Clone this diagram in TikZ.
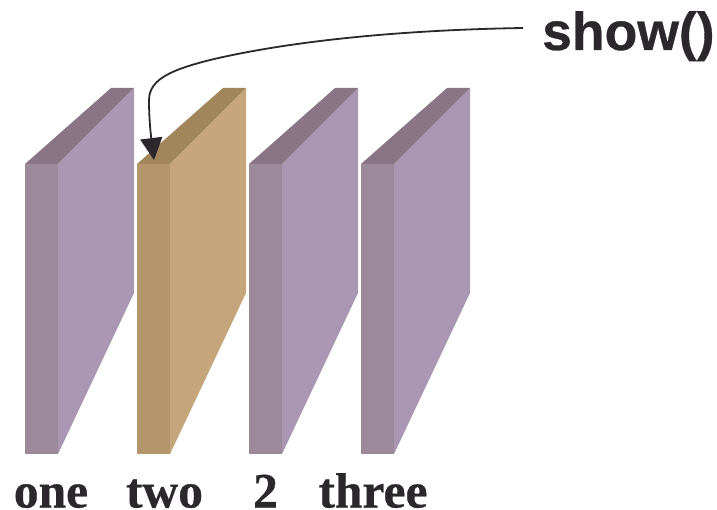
\documentclass[tikz,border=0pt]{standalone}
\usepackage{fontspec}
\setmainfont[BoldFeatures={FakeBold=0.6}]{Liberation Serif}
\newfontfamily\labelsans[BoldFeatures={FakeBold=0.6}]{Liberation Sans}
\usetikzlibrary{arrows.meta}
\definecolor{ink}{HTML}{2B272C}
\definecolor{plumfront}{HTML}{9C8A9B}
\definecolor{plumside}{HTML}{A997B3}
\definecolor{plumtop}{HTML}{8A7585}
\definecolor{tanfront}{HTML}{B3966C}
\definecolor{tanside}{HTML}{C5A57A}
\definecolor{tantop}{HTML}{A1855B}
\tikzset{
  slabname/.style={anchor=base,inner sep=0pt,font=\fontsize{49.5}{49.5}\selectfont\bfseries,text=ink},
  callname/.style={anchor=base west,inner sep=0pt,font=\fontsize{53.5}{53.5}\selectfont\labelsans\bfseries,text=ink},
  callarrow/.style={draw=ink,line width=1.8pt,-{Stealth[length=22pt,width=22pt,inset=0pt]}}
}
% One upright slab: #1 is the left edge, #2 the colour prefix
\newcommand{\slab}[2]{%
  \fill[#2side] (#1+33,164) -- (#1+109,88) -- (#1+109,293) -- (#1+33,454) -- cycle;
  \fill[#2top] (#1,164) -- (#1+86,88) -- (#1+109,88) -- (#1+33,164) -- cycle;
  \fill[#2front] (#1,164) rectangle (#1+33,454);
}
\begin{document}
\begin{tikzpicture}[x=1pt,y=-1pt]
\useasboundingbox (0,0) rectangle (717,510);
\slab{25}{plum}
\slab{137}{tan}
\slab{249}{plum}
\slab{361}{plum}
\node[slabname] (one) at (51,507.5) {one};
\node[slabname] (two) at (164.5,507.5) {two};
\node[slabname] (second) at (265.5,507.5) {2};
\node[slabname] (three) at (373,507.5) {three};
\node[callname] (show) at (542,50) {show()};
\coordinate (start) at (523,28);
\coordinate (tip) at (154,160);
\draw[callarrow] (start) .. controls (400,30) and (290,41) .. (210,60)
  .. controls (175,69) and (149,78) .. (149,100)
  .. controls (149,115) and (150,128) .. (tip);
\end{tikzpicture}
\end{document}
